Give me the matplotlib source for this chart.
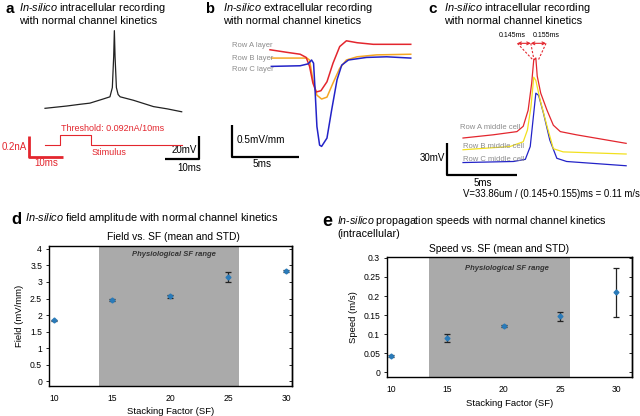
import matplotlib
matplotlib.use('Agg')
import matplotlib.pyplot as plt

plt.rcParams['font.family'] = 'Liberation Sans'
plt.rcParams['mathtext.fontset'] = 'custom'
plt.rcParams['mathtext.rm'] = 'Liberation Sans'
plt.rcParams['mathtext.it'] = 'Liberation Sans:italic'

W, H = 640, 416
fig = plt.figure(figsize=(6.4, 4.16), dpi=100)

# --- data -------------------------------------------------------------
# a: intracellular spike (ms, mV) and stimulus (ms, nA)
spike_t = [0, 6.4, 10.3, 13.2, 17, 19.1, 19.8, 20.2, 20.4, 20.6, 21.0, 21.5, 22.1, 26, 31.9, 36, 40.2]
spike_v = [-70, -68, -66.5, -65.5, -62, -60, -52, -25, -2.5, -25, -52, -58, -60, -63, -68.5, -70.5, -73]
stim_t = [0, 4.3, 4.3, 13.4, 13.4, 40.2]
stim_i = [0, 0, 0.092, 0.092, 0, 0]

# b: extracellular field (ms, mV/mm)
rowA_t = [0, 1.25, 2.25, 2.7, 2.95, 3.2, 3.45, 3.8, 4.25, 4.7, 5.2, 5.7, 6.5, 7.7, 10.5]
rowA_e = [0.16, 0.12, 0.09, 0.04, -0.1, -0.36, -0.5, -0.48, -0.34, -0.05, 0.21, 0.3, 0.27, 0.245, 0.245]
rowB_t = [0.1, 2.75, 2.95, 3.2, 3.5, 3.85, 4.25, 4.7, 5.2, 5.7, 6.5, 7.95, 10.5]
rowB_e = [0.03, 0.03, 0.0, -0.31, -0.55, -0.61, -0.58, -0.36, -0.13, 0.0, 0.05, 0.08, 0.09]
rowC_t = [0.1, 2.25, 2.85, 3.1, 3.25, 3.35, 3.5, 3.7, 3.85, 4.25, 4.6, 5.0, 5.35, 5.85, 7.2, 8.7, 10.5]
rowC_e = [-0.1, -0.09, -0.06, 0.0, -0.05, -0.42, -1.04, -1.33, -1.35, -1.22, -0.78, -0.31, -0.08, 0.0, 0.04, 0.05, 0.03]

# c: intracellular middle cells (ms, mV)
cellA_t = [0, 2.15, 3.85, 4.3, 4.65, 4.9, 5.05, 5.2, 5.3, 5.55, 6.0, 6.45, 6.95, 8.1, 11.65]
cellA_v = [-70, -67, -64, -59, -44, -19, 3, 5, -12, -28, -44, -58, -64, -67, -75]
cellB_t = [0, 3.35, 4.3, 4.6, 4.85, 5.05, 5.2, 5.5, 6.0, 6.45, 7.15, 11.65]
cellB_v = [-81, -78, -73.5, -62.5, -41, -13, -16, -34, -59, -80, -83, -85]
cellC_t = [0, 3.6, 4.45, 4.8, 5.0, 5.2, 5.4, 5.75, 6.2, 6.7, 7.4, 11.65]
cellC_v = [-93, -92, -90, -78, -53, -28, -30, -47, -72, -89, -92, -96]

# d, e: summary vs stacking factor
sf = [10, 15, 20, 25, 30]
field_mean = [1.84, 2.44, 2.57, 3.16, 3.34]
field_std = [0.02, 0.03, 0.05, 0.15, 0.03]
speed_mean = [0.042, 0.089, 0.122, 0.147, 0.21]
speed_std = [0.002, 0.011, 0.003, 0.012, 0.064]

RED = '#e3262e'
GRAY = '#8c8c8c'


def px_axes(x0, y0, x1, y1):
    ax = fig.add_axes([x0 / W, 1 - y1 / H, (x1 - x0) / W, (y1 - y0) / H])
    ax.axis('off')
    return ax


def px_text(x, y, s, **kw):
    fig.text(x / W, 1 - y / H, s, **kw)


def panel_title(letter, lx, tx, y, lines, size=7.9, lsize=11):
    px_text(lx, y + 1, letter, fontsize=lsize, fontweight='bold', va='center')
    for i, line in enumerate(lines):
        px_text(tx, y + i * 13, line, fontsize=size, va='center')


insil = r'$\mathit{In}$-$\mathit{silico}$'

# --- a -----------------------------------------------------------------
panel_title('a', 5, 19, 8, [insil + ' intracellular recording', 'with normal channel kinetics'])
axa = px_axes(0, 15, 215, 180)
axa.set_xlim(-13.24, 50)
axa.set_ylim(-132.3, 11.1)
axa.plot(spike_t, spike_v, color='#222222', lw=0.9)
axa.plot([45.3, 45.3, 35.3], [-94.1, -114.1, -114.1], color='black', lw=1.6, solid_capstyle='butt')
axa.text(44.6, -106.5, '20mV', fontsize=7, ha='right', va='center')
axa.text(42.5, -121.5, '10ms', fontsize=7, ha='center', va='center')

axs = px_axes(0, 15, 215, 180)
axs.set_xlim(-13.24, 50)
axs.set_ylim(-0.333, 1.238)
axs.plot(stim_t, stim_i, color=RED, lw=0.8)
axs.plot([-4.7, -4.7, 5.3], [0.086, -0.114, -0.114], color=RED, lw=2, solid_capstyle='butt')
axs.text(-5.2, -0.02, '0.2nA', fontsize=7, ha='right', va='center', color=RED)
axs.text(0.4, -0.171, '10ms', fontsize=7, ha='center', va='center', color=RED)
axs.text(20, 0.162, 'Threshold: 0.092nA/10ms', fontsize=6.5, ha='center', va='center', color=RED)
axs.text(13.8, -0.067, 'Stimulus', fontsize=6.5, ha='left', va='center', color=RED)

# --- b -----------------------------------------------------------------
panel_title('b', 205, 223, 8, [insil + ' extracellular recording', 'with normal channel kinetics'], lsize=10.5)
axb = px_axes(220, 15, 420, 180)
axb.set_xlim(-3.73, 11.19)
axb.set_ylim(-1.875, 0.703)
axb.plot(rowB_t, rowB_e, color='#f5a623', lw=1.1)
axb.plot(rowA_t, rowA_e, color=RED, lw=1.1)
axb.plot(rowC_t, rowC_e, color='#2323c8', lw=1.1)
for lab, yy in [('Row A layer', 0.22), ('Row B layer', 0.03), ('Row C layer', -0.156)]:
    axb.text(-2.84, yy, lab, fontsize=5.5, color=GRAY, ha='left', va='center')
axb.plot([-2.84, -2.84, 2.16], [-1.016, -1.516, -1.516], color='black', lw=1.6, solid_capstyle='butt')
axb.text(-2.5, -1.25, '0.5mV/mm', fontsize=7.2, ha='left', va='center')
axb.text(-0.6, -1.63, '5ms', fontsize=7.2, ha='center', va='center')

# --- c -----------------------------------------------------------------
panel_title('c', 428, 444, 8, [insil + ' intracellular recording', 'with normal channel kinetics'])
axc = px_axes(415, 15, 640, 200)
axc.set_xlim(-3.43, 12.64)
axc.set_ylim(-128.1, 45.3)
axc.plot(cellC_t, cellC_v, color='#2323c8', lw=0.9)
axc.plot(cellB_t, cellB_v, color='#f2e01e', lw=0.9)
axc.plot(cellA_t, cellA_v, color=RED, lw=0.9)
for lab, xx, yy in [('Row A middle cell', -0.21, -60.6), ('Row B middle cell', 0, -78.4),
                    ('Row C middle cell', 0, -89.7)]:
    axc.text(xx, yy, lab, fontsize=5.5, color=GRAY, ha='left', va='center')
axc.plot([-1.14, -1.14, 3.86], [-74.7, -104.7, -104.7], color='black', lw=1.6, solid_capstyle='butt')
axc.text(-1.3, -88.7, '30mV', fontsize=7, ha='right', va='center')
axc.text(1.43, -111.8, '5ms', fontsize=7, ha='center', va='center')
axc.text(0, -122.8, 'V=33.86um / (0.145+0.155)ms = 0.11 m/s', fontsize=6.9, ha='left', va='center')
# peak-delay arrows
axc.annotate('', xy=(3.88, 18.75), xytext=(4.84, 18.75),
             arrowprops=dict(arrowstyle='<->', color=RED, lw=0.8, mutation_scale=5, shrinkA=0, shrinkB=0))
axc.annotate('', xy=(4.84, 18.75), xytext=(5.93, 18.75),
             arrowprops=dict(arrowstyle='<->', color=RED, lw=0.8, mutation_scale=5, shrinkA=0, shrinkB=0))
for x0, x1 in [(3.88, 5.0), (4.84, 5.07), (5.93, 5.38)]:
    axc.plot([x0, x1], [18.75, 3.1], color=RED, lw=0.8, ls=(0, (2, 1.5)))
axc.text(3.5, 26.5, '0.145ms', fontsize=5, ha='center', va='center')
axc.text(5.95, 26.5, '0.155ms', fontsize=5, ha='center', va='center')


# --- d, e ----------------------------------------------------------------
def summary_axes(rect, means, stds, xlim, ylim, yticks, ylabels, span, ylab, ytxt):
    ax = fig.add_axes(rect)
    ax.axvspan(span[0], span[1], color='#aaaaaa', lw=0, zorder=0)
    ax.errorbar(sf, means, yerr=stds, fmt='D', ms=2.5, color='#2b7bb9', ecolor='#222222',
                elinewidth=0.9, capsize=2, capthick=0.9, zorder=3)
    ax.set_xlim(*xlim)
    ax.set_ylim(*ylim)
    ax.set_xticks(sf)
    ax.set_yticks(yticks)
    ax.set_yticklabels(ylabels)
    ax.tick_params(axis='x', length=0, labelsize=6.2, pad=6)
    ax.tick_params(axis='y', length=2, width=0.6, labelsize=6.2, pad=3, direction='out')
    # right spine carries inward ticks, no labels
    sec = ax.secondary_yaxis('right')
    sec.set_yticks(yticks)
    sec.tick_params(length=2, width=0.6, direction='in', labelright=False)
    sec.spines['right'].set_linewidth(1.0)
    for s in ax.spines.values():
        s.set_linewidth(1.0)
    ax.set_xlabel('Stacking Factor (SF)', fontsize=6.8, labelpad=3)
    ax.set_ylabel(ylab, fontsize=6.8, labelpad=4)
    ax.text(20.3, ytxt, 'Physiological SF range', fontsize=5.5, fontweight='bold', fontstyle='italic',
            color='#333333', ha='center', va='center')
    return ax


panel_title('d', 11, 25, 218, [insil + ' field amplitude with normal channel kinetics'], lsize=12)
px_text(173, 237, 'Field vs. SF (mean and STD)', fontsize=7.4, ha='center', va='center')
summary_axes([49 / W, 1 - 386 / H, 243 / W, 140 / H], field_mean, field_std,
             (9.57, 30.5), (-0.15, 4.09), [0, 0.5, 1, 1.5, 2, 2.5, 3, 3.5, 4],
             ['0', '0.5', '1', '1.5', '2', '2.5', '3', '3.5', '4'], (13.88, 25.95), 'Field (mV/mm)', 3.82)

panel_title('e', 322, 337, 221, [insil + ' propagation speeds with normal channel kinetics', '(intracellular)'],
            size=7.65, lsize=13)
px_text(499, 249, 'Speed vs. SF (mean and STD)', fontsize=7.4, ha='center', va='center')
summary_axes([387 / W, 1 - 377 / H, 245 / W, 120 / H], speed_mean, speed_std,
             (9.64, 31.4), (-0.013, 0.3026), [0, 0.05, 0.1, 0.15, 0.2, 0.25, 0.3],
             ['0', '0.05', '0.1', '0.15', '0.2', '0.25', '0.3'], (13.38, 25.9), 'Speed (m/s)', 0.273)

fig.savefig('out.png', dpi=100)
